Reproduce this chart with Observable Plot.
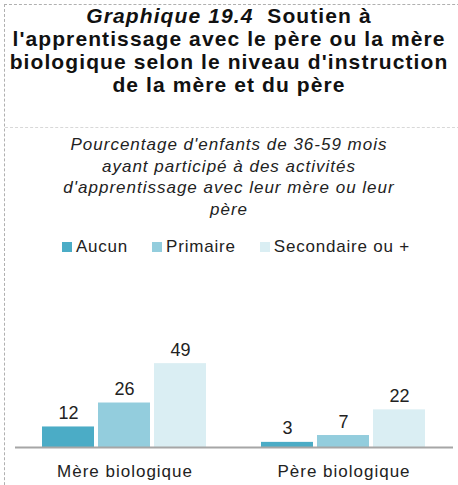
<!DOCTYPE html>
<html>
<head>
<meta charset="utf-8">
<script src="https://cdn.jsdelivr.net/npm/d3@7"></script>
<script src="https://cdn.jsdelivr.net/npm/@observablehq/plot@0.6"></script>
<style>
  html, body { margin: 0; padding: 0; background: #fff; }
  body { width: 458px; height: 485px; overflow: hidden; position: relative; font-family: "Liberation Sans", Arial, sans-serif; color: #111; }
  #frame { position: absolute; left: 4px; top: 4px; width: 480px; height: 520px; border-left: 1px dashed #b0b0b0; border-top: 1px dashed #b0b0b0; }
  #title { position: absolute; top: 4px; left: 0; width: 458px; text-align: center; font-weight: bold; font-size: 21px; line-height: 23px; letter-spacing: 1.1px; }
  #sep { position: absolute; top: 127px; left: 5px; width: 460px; border-top: 1px dashed #d8d8d8; }
  #subtitle { position: absolute; top: 134px; left: 0; width: 458px; text-align: center; font-style: italic; font-size: 17px; line-height: 21.5px; letter-spacing: 1px; color: #222; }
  #legend { position: absolute; top: 236px; left: 0; width: 458px; height: 22px; display: flex; justify-content: center; align-items: center; font-size: 17px; letter-spacing: 0.8px; color: #222; padding-left: 14px; box-sizing: border-box; }
  .item { display: flex; align-items: center; margin: 0 12px; }
  .sw { width: 10px; height: 10px; margin-right: 4px; }
  #chart { position: absolute; top: 262px; left: 0; }
  [aria-label="fx-axis tick label"] text { letter-spacing: 1px; }
</style>
</head>
<body>
<div id="frame"></div>
<div id="title"><i>Graphique 19.4</i>&nbsp; Soutien à<br>l'apprentissage avec le père ou la mère<br>biologique selon le niveau d'instruction<br>de la mère et du père</div>
<div id="sep"></div>
<div id="subtitle">Pourcentage d'enfants de 36-59 mois<br>ayant participé à des activités<br>d'apprentissage avec leur mère ou leur<br>père</div>
<div id="legend"></div>
<div id="chart"></div>
<script>
const groups = ["Mère biologique", "Père biologique"];
const levels = ["Aucun", "Primaire", "Secondaire ou +"];
const colors = ["#4BACC6", "#93CDDD", "#DAEEF3"];
const mereValues = [12, 26, 49];
const pereValues = [3, 7, 22];

const data = [];
levels.forEach((l, i) => data.push({group: groups[0], level: l, value: mereValues[i]}));
levels.forEach((l, i) => data.push({group: groups[1], level: l, value: pereValues[i]}));

const legend = document.getElementById("legend");
levels.forEach((l, i) => {
  const it = document.createElement("div");
  it.className = "item";
  const sw = document.createElement("div");
  sw.className = "sw";
  sw.style.background = colors[i];
  const t = document.createElement("span");
  t.textContent = l;
  it.appendChild(sw); it.appendChild(t);
  legend.appendChild(it);
});

const chart = Plot.plot({
  width: 458,
  height: 223,
  marginLeft: 15,
  marginRight: 5,
  marginTop: 31,
  marginBottom: 38,
  style: {fontFamily: "Liberation Sans, Arial, sans-serif", background: "transparent", color: "#222"},
  fx: {domain: groups, padding: 0, label: null},
  x: {domain: levels, paddingInner: 0.07, paddingOuter: 0.49, axis: null},
  y: {domain: [0, 90], axis: null},
  color: {domain: levels, range: colors},
  marks: [
    Plot.barY(data, {fx: "group", x: "level", y: "value", fill: "level"}),
    Plot.text(data, {fx: "group", x: "level", y: "value", text: d => String(d.value), lineAnchor: "bottom", dy: -8, fontSize: 18, fill: "#222"}),
    Plot.ruleY([0], {stroke: "#a6a6a6", strokeWidth: 2}),
    Plot.axisFx({anchor: "bottom", tickSize: 0, tickPadding: 17, fontSize: 17, label: null, fill: "#222"})
  ]
});
document.getElementById("chart").appendChild(chart);
</script>
</body>
</html>
